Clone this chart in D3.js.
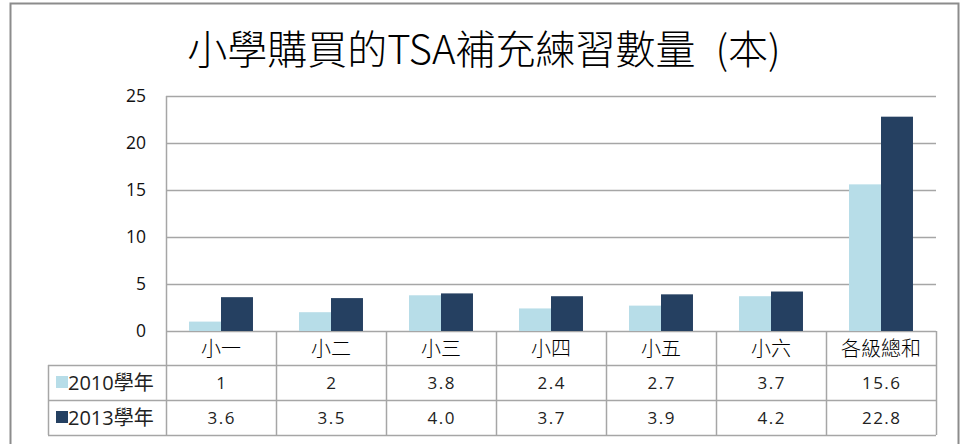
<!DOCTYPE html>
<html>
<head>
<meta charset="utf-8">
<script src="https://cdn.jsdelivr.net/npm/d3@7"></script>
<style>
  body { margin: 0; background: #fff; }
  text { font-family: "Noto Sans CJK TC", "Open Sans", sans-serif; }
</style>
</head>
<body>
<script>
// data
let categories = ['小一', '小二', '小三', '小四', '小五', '小六', '各級總和']
let seriesNames = ['2010學年', '2013學年']
let values2010 = [1, 2, 3.8, 2.4, 2.7, 3.7, 15.6]
let values2013 = [3.6, 3.5, 4.0, 3.7, 3.9, 4.2, 22.8]
let tableLabels2010 = ['1', '2', '3.8', '2.4', '2.7', '3.7', '15.6']
let tableLabels2013 = ['3.6', '3.5', '4.0', '3.7', '3.9', '4.2', '22.8']
let yTicks = [0, 5, 10, 15, 20, 25]
let titleText = '小學購買的TSA補充練習數量\u2002(本)'

let colors = ['#b7dde8', '#254061']
let gridColor = '#a6a6a6'

let width = 962
let height = 444

let svg = d3.select('body').append('svg')
  .attr('width', width)
  .attr('height', height)

// outer chart border
svg.append('rect')
  .attr('x', 10.5)
  .attr('y', 3.5)
  .attr('width', 948)
  .attr('height', 460)
  .style('fill', 'none')
  .style('stroke', '#8c8c8c')
  .style('stroke-width', '2px')

svg.append('text')
  .attr('x', 484)
  .attr('y', 64)
  .attr('text-anchor', 'middle')
  .style('font-size', '40px')
  .style('font-weight', 300)
  .style('fill', '#000')
  .text(titleText)

/* scales */
let plotLeft = 166, plotRight = 936, plotTop = 96, plotBottom = 331

let x = d3.scaleBand().domain(categories).range([plotLeft, plotRight])
let xInner = d3.scaleBand().domain(seriesNames).range([0, x.bandwidth()])
  .paddingInner(0).paddingOuter(0.72)
let y = d3.scaleLinear().domain([0, 25]).range([plotBottom, plotTop])

// gridlines
svg.append('g').selectAll('line')
  .data(yTicks)
  .enter().append('line')
  .attr('x1', plotLeft)
  .attr('x2', plotRight)
  .attr('y1', d => Math.round(y(d)) + 0.5)
  .attr('y2', d => Math.round(y(d)) + 0.5)
  .style('stroke', gridColor)
  .style('stroke-width', '1.5px')

// left axis line
svg.append('line')
  .attr('x1', plotLeft + 0.5).attr('x2', plotLeft + 0.5)
  .attr('y1', plotTop).attr('y2', plotBottom)
  .style('stroke', gridColor)
  .style('stroke-width', '1.5px')

// y axis labels
let yAxis = d3.axisLeft(y).tickValues(yTicks).tickSize(0).tickPadding(20)
let yAxisG = svg.append('g')
  .attr('transform', 'translate(' + plotLeft + ',0)')
  .call(yAxis)
yAxisG.select('.domain').remove()
yAxisG.selectAll('text')
  .style('font-family', '"Open Sans", sans-serif')
  .style('font-size', '17.5px')
  .style('fill', '#111')

// bars
let seriesData = [values2010, values2013]
seriesData.forEach((vals, s) => {
  svg.append('g').selectAll('rect')
    .data(vals)
    .enter().append('rect')
    .attr('x', (d, i) => x(categories[i]) + xInner(seriesNames[s]))
    .attr('y', d => y(d))
    .attr('width', xInner.bandwidth())
    .attr('height', d => y(0) - y(d))
    .style('fill', colors[s])
})

/* data table */
let rowTop = plotBottom
let rowHeights = [34, 35, 35]
let tableLeft = 48
let rowY = [rowTop, rowTop + rowHeights[0], rowTop + rowHeights[0] + rowHeights[1],
  rowTop + rowHeights[0] + rowHeights[1] + rowHeights[2]]

let table = svg.append('g')
let lineStyle = sel => sel.style('stroke', gridColor).style('stroke-width', '1.5px')

// horizontal lines
table.append('line').attr('x1', tableLeft).attr('x2', plotRight)
  .attr('y1', rowY[1] + 0.5).attr('y2', rowY[1] + 0.5).call(lineStyle)
table.append('line').attr('x1', tableLeft).attr('x2', plotRight)
  .attr('y1', rowY[2] + 0.5).attr('y2', rowY[2] + 0.5).call(lineStyle)
table.append('line').attr('x1', tableLeft).attr('x2', plotRight)
  .attr('y1', rowY[3] + 0.5).attr('y2', rowY[3] + 0.5).call(lineStyle)

// vertical lines
let colEdges = categories.map(c => x(c)).concat([plotRight])
table.selectAll('.vline')
  .data(colEdges)
  .enter().append('line')
  .attr('class', 'vline')
  .attr('x1', d => Math.round(d) + 0.5)
  .attr('x2', d => Math.round(d) + 0.5)
  .attr('y1', rowY[0])
  .attr('y2', rowY[3])
  .call(lineStyle)
table.append('line')
  .attr('x1', tableLeft + 0.5).attr('x2', tableLeft + 0.5)
  .attr('y1', rowY[1]).attr('y2', rowY[3])
  .call(lineStyle)

// category labels
table.selectAll('.cat')
  .data(categories)
  .enter().append('text')
  .attr('class', 'cat')
  .attr('x', d => x(d) + x.bandwidth() / 2)
  .attr('y', rowY[0] + 25)
  .attr('text-anchor', 'middle')
  .style('font-size', '20px')
  .style('font-weight', 300)
  .style('fill', '#000')
  .text(d => d)

// value rows
let tableRows = [tableLabels2010, tableLabels2013]
tableRows.forEach((labels, r) => {
  table.append('g').selectAll('text')
    .data(labels)
    .enter().append('text')
    .attr('x', (d, i) => x(categories[i]) + x.bandwidth() / 2 + 0.75)
    .attr('y', rowY[r + 1] + 24)
    .attr('text-anchor', 'middle')
    .style('font-family', '"Open Sans", sans-serif')
    .style('font-size', '17px')
    .style('letter-spacing', '1.5px')
    .style('fill', '#222')
    .text(d => d)

  // legend key
  table.append('rect')
    .attr('x', 56)
    .attr('y', rowY[r + 1] + 11)
    .attr('width', 12)
    .attr('height', 12)
    .style('fill', colors[r])
  table.append('text')
    .attr('x', 68)
    .attr('y', rowY[r + 1] + 25)
    .style('font-family', '"Open Sans", "Noto Sans CJK TC", sans-serif')
    .style('font-size', '20px')
    .style('fill', '#222')
    .text(seriesNames[r])
})
</script>
</body>
</html>
